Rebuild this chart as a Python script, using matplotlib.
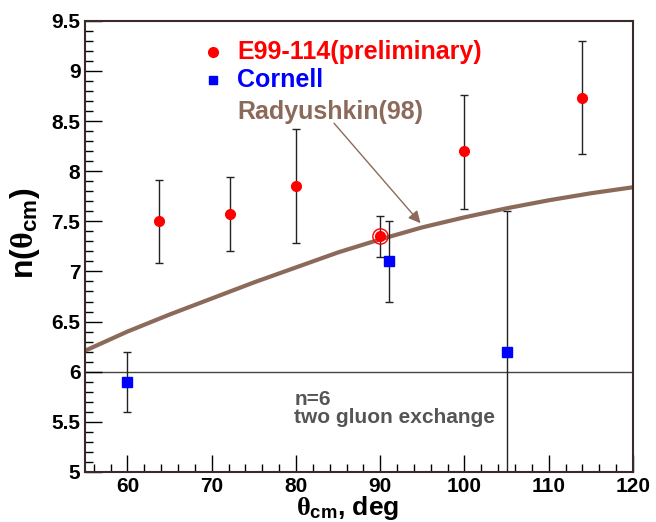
import numpy as np
import matplotlib.pyplot as plt
from matplotlib.ticker import MultipleLocator

plt.rcParams['font.family'] = ['Liberation Sans', 'DejaVu Sans']
plt.rcParams['font.weight'] = 'bold'
plt.rcParams['mathtext.fontset'] = 'custom'
plt.rcParams['mathtext.rm'] = 'Liberation Serif'
plt.rcParams['mathtext.it'] = 'Liberation Serif:italic'
plt.rcParams['mathtext.bf'] = 'Liberation Sans:bold'

# E99-114 (preliminary)
e99_theta = [63.7, 72.2, 80.0, 90.0, 100.0, 114.0]
e99_n = [7.50, 7.57, 7.85, 7.35, 8.20, 8.73]
e99_lo = [7.08, 7.20, 7.28, 7.14, 7.62, 8.17]
e99_hi = [7.91, 7.94, 8.42, 7.55, 8.76, 9.30]

# Cornell
cor_theta = [60.0, 91.0, 105.0]
cor_n = [5.90, 7.10, 6.20]
cor_lo = [5.60, 6.70, 4.80]
cor_hi = [6.20, 7.50, 7.60]

# Radyushkin(98) curve
rad_theta = [55, 60, 65, 70, 75, 80, 85, 90, 95, 100, 105, 110, 115, 120]
rad_n = [6.21, 6.40, 6.57, 6.73, 6.89, 7.04, 7.19, 7.32, 7.44, 7.54, 7.63, 7.71, 7.78, 7.84]

red = '#ff0000'
blue = '#0000ff'
brown = '#8c6a5a'

fig = plt.figure(figsize=(6.56, 5.22), dpi=100)
ax = fig.add_axes([0.130, 0.096, 0.835, 0.864])

ax.axhline(6.0, color='#444444', lw=1.0, zorder=1)
ax.plot(rad_theta, rad_n, color=brown, lw=3, zorder=2)

e_err = [np.subtract(e99_n, e99_lo), np.subtract(e99_hi, e99_n)]
ax.errorbar(e99_theta, e99_n, yerr=e_err, fmt='o', color=red, ms=7,
            ecolor='#222222', elinewidth=1, capsize=3, capthick=1, zorder=3)
c_err = [np.subtract(cor_n, cor_lo), np.subtract(cor_hi, cor_n)]
ax.errorbar(cor_theta, cor_n, yerr=c_err, fmt='s', color=blue, ms=7,
            ecolor='#222222', elinewidth=1, capsize=3, capthick=1, zorder=3)
# highlighted point at 90 deg
ax.plot([90.0], [7.35], 'o', mfc='none', mec=red, ms=11, mew=1, zorder=4)

# legend drawn as text
ax.plot([70.2], [9.19], 'o', color=red, ms=7, clip_on=False)
ax.text(73.0, 9.19, 'E99-114(preliminary)', color=red, fontsize=18, va='center')
ax.plot([70.2], [8.91], 's', color=blue, ms=6, clip_on=False)
ax.text(73.0, 8.91, 'Cornell', color=blue, fontsize=18, va='center')
ax.text(73.0, 8.59, 'Radyushkin(98)', color=brown, fontsize=18, va='center')
ax.annotate('', xy=(95.0, 7.46), xytext=(84.3, 8.50),
            arrowprops=dict(arrowstyle='-|>', color=brown, lw=1, mutation_scale=18))

ax.text(79.8, 5.63, 'n=6\ntwo gluon exchange', color='#555555', fontsize=15,
        va='center', linespacing=0.95)

ax.set_xlim(55, 120)
ax.set_ylim(5, 9.5)
ax.xaxis.set_major_locator(MultipleLocator(10))
ax.xaxis.set_minor_locator(MultipleLocator(2))
ax.yaxis.set_major_locator(MultipleLocator(0.5))
ax.yaxis.set_minor_locator(MultipleLocator(0.1))
ax.yaxis.set_major_formatter(plt.FuncFormatter(lambda v, p: f'{v:g}'))
ax.tick_params(which='both', direction='in', top=False, right=False, labelsize=15)
ax.tick_params(which='major', length=12, width=1)
ax.tick_params(which='minor', length=6, width=1)
for s in ax.spines.values():
    s.set_color('#3a2a2a')
    s.set_linewidth(1.5)

ax.set_xlabel(r'$\mathrm{\theta}_{\mathbf{cm}}$, deg', fontsize=19, fontweight='bold')
ax.xaxis.set_label_coords(0.478, -0.08)
ax.xaxis.label.set_va('center')
ax.set_ylabel(r'n($\mathrm{\theta}_{\mathbf{cm}}$)', fontsize=23, fontweight='bold')
ax.yaxis.set_label_coords(-0.11, 0.53)
ax.yaxis.label.set_va('center')

fig.savefig('out.png', dpi=100)
